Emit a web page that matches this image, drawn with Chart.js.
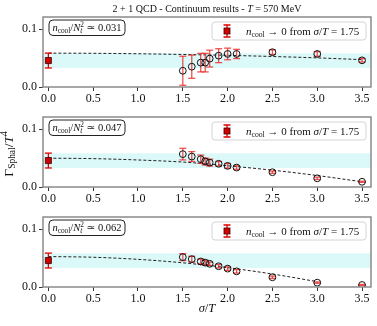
<!DOCTYPE html>
<html>

<head>
    <title>Sphaleron rate - continuum results</title>
    <script src="https://cdn.jsdelivr.net/npm/chart.js"></script>
    <style>
        body {
            margin: 0;
            background: #fff;
        }

        #wrap {
            position: relative;
            width: 377px;
            height: 326px;
            overflow: hidden;
        }

        #wrap canvas {
            position: absolute;
            left: 0;
        }
    </style>
</head>

<body>
    <div id="wrap">
        <canvas id="panel1" width="377" height="110" style="top:0px"></canvas>
        <canvas id="panel2" width="377" height="110" style="top:100px"></canvas>
        <canvas id="panel3" width="377" height="126" style="top:200px"></canvas>
    </div>

    <script>
        // sigma/T values of the lattice points
        const sigmaT = [1.5, 1.6, 1.7, 1.75, 1.8, 1.9, 2.0, 2.1, 2.5, 3.0, 3.5];

        // n_cool/N_t^2 = 0.031
        const rate031 = [0.028, 0.035, 0.042, 0.042, 0.049, 0.054, 0.057, 0.057, 0.060, 0.057, 0.046];
        const err031 = [0.025, 0.020, 0.016, 0.016, 0.0145, 0.012, 0.010, 0.008, 0.004, 0.004, 0.003];
        // n_cool/N_t^2 = 0.047
        const rate047 = [0.0567, 0.0525, 0.048, 0.044, 0.042, 0.040, 0.0364, 0.0335, 0.0255, 0.015, 0.009];
        const err047 = [0.010, 0.0085, 0.007, 0.006, 0.006, 0.004, 0.004, 0.003, 0.002, 0.002, 0.001];
        // n_cool/N_t^2 = 0.062
        const rate062 = [0.0515, 0.048, 0.044, 0.042, 0.040, 0.0358, 0.0317, 0.027, 0.0168, 0.0075, 0.0035];
        const err062 = [0.006, 0.005, 0.004, 0.004, 0.003, 0.003, 0.003, 0.003, 0.002, 0.001, 0.001];

        // fit curves
        const fitX = [0, 0.5, 1.0, 1.5, 2.0, 2.5, 3.0, 3.5];
        const fit031 = [0.0584, 0.0581, 0.0573, 0.0561, 0.0546, 0.0526, 0.0502, 0.0472];
        const fit047 = [0.0497, 0.0489, 0.0466, 0.0430, 0.0366, 0.0290, 0.0198, 0.0090];
        const fitX062 = [0, 0.5, 1.0, 1.5, 2.0, 2.5, 3.0];
        const fit062 = [0.0525, 0.0513, 0.0477, 0.0417, 0.0333, 0.0224, 0.0092];

        // n_cool -> 0 extrapolation (square + band)
        const extrapX = 0;
        const extrapY = 0.0456;
        const extrapErr = 0.0128;

        const ratioLabels = ['0.031', '0.047', '0.062'];
        const xTickValues = [0, 0.5, 1.0, 1.5, 2.0, 2.5, 3.0, 3.5];
        const yTickValues = [0, 0.1];
        const xMin = -0.06, xMax = 3.6, yMin = 0, yMax = 0.1207;

        const SERIF = '"Liberation Serif", "DejaVu Serif", serif';
        const ERR_RED = 'rgba(236, 40, 40, 0.8)';
        const BAND = '#dcf9f9';

        // draws text made of [text, kind] parts; kinds: r roman, i italic, b subscript,
        // bi italic subscript, p superscript, ps superscript stacked over previous part
        function drawRich(ctx, parts, x, y, size, align) {
            const fontFor = k => {
                const small = (k === 'b' || k === 'bi' || k === 'p' || k === 'ps');
                const it = (k === 'i' || k === 'bi') ? 'italic ' : '';
                return it + (small ? size * 0.7 : size) + 'px ' + SERIF;
            };
            let w = 0, lastW = 0;
            for (const [t, k] of parts) {
                ctx.font = fontFor(k);
                const tw = ctx.measureText(t).width;
                if (k === 'ps') { w += Math.max(0, tw - lastW); } else { w += tw; }
                lastW = tw;
            }
            let cx = align === 'center' ? x - w / 2 : (align === 'right' ? x - w : x);
            ctx.textAlign = 'left';
            ctx.textBaseline = 'alphabetic';
            let prevX = cx;
            for (const [t, k] of parts) {
                ctx.font = fontFor(k);
                const tw = ctx.measureText(t).width;
                let dy = 0;
                if (k === 'b' || k === 'bi') dy = size * 0.22;
                if (k === 'p' || k === 'ps') dy = -size * 0.4;
                if (k === 'ps') {
                    ctx.fillText(t, prevX, y + dy);
                    cx = Math.max(cx, prevX + tw);
                } else {
                    ctx.fillText(t, cx, y + dy);
                    prevX = cx;
                    cx += tw;
                }
            }
            return w;
        }

        function roundBox(ctx, x, y, w, h, r) {
            ctx.beginPath();
            ctx.moveTo(x + r, y);
            ctx.arcTo(x + w, y, x + w, y + h, r);
            ctx.arcTo(x + w, y + h, x, y + h, r);
            ctx.arcTo(x, y + h, x, y, r);
            ctx.arcTo(x, y, x + w, y, r);
            ctx.closePath();
        }

        const panelDecor = {
            id: 'panelDecor',
            afterDatasetsDraw(chart, args, opts) {
                const { ctx, chartArea: a } = chart;
                ctx.save();
                // frame
                ctx.strokeStyle = '#8a8a8a';
                ctx.lineWidth = 1.5;
                ctx.strokeRect(a.left, a.top, a.right - a.left, a.bottom - a.top);

                // n_cool / N_t^2 box
                roundBox(ctx, a.left + 6, a.top + 3, 76, 15.5, 4);
                ctx.fillStyle = '#fff';
                ctx.fill();
                ctx.strokeStyle = '#222';
                ctx.lineWidth = 1;
                ctx.stroke();
                ctx.fillStyle = '#111';
                drawRich(ctx, [['n', 'i'], ['cool', 'b'], ['/', 'r'], ['N', 'i'], ['t', 'bi'], ['2', 'ps'],
                    [' \u2243 ' + opts.ratio, 'r']
                ], a.left + 44, a.top + 14, 10.5, 'center');

                // legend
                const lx = a.right - 159, ly = a.top + 5, lw = 154, lh = 18;
                roundBox(ctx, lx, ly, lw, lh, 3);
                ctx.fillStyle = 'rgba(255,255,255,0.85)';
                ctx.fill();
                ctx.strokeStyle = '#d4d4d4';
                ctx.stroke();
                const mx = lx + 15, my = ly + lh / 2;
                ctx.strokeStyle = '#e00000';
                ctx.lineWidth = 1.3;
                ctx.beginPath();
                ctx.moveTo(mx, my - 6); ctx.lineTo(mx, my + 6);
                ctx.moveTo(mx - 3.5, my - 6); ctx.lineTo(mx + 3.5, my - 6);
                ctx.moveTo(mx - 3.5, my + 6); ctx.lineTo(mx + 3.5, my + 6);
                ctx.stroke();
                ctx.fillStyle = '#d10000';
                ctx.fillRect(mx - 3, my - 3, 6, 6);
                ctx.strokeStyle = '#3a0000';
                ctx.lineWidth = 0.8;
                ctx.strokeRect(mx - 3, my - 3, 6, 6);
                ctx.fillStyle = '#111';
                drawRich(ctx, [['n', 'i'], ['cool', 'b'], [' \u2192 0 from ', 'r'], ['\u03c3', 'i'], ['/', 'r'], ['T', 'i'],
                    [' = 1.75', 'r']
                ], lx + 34, ly + 12.5, 11, 'left');
                ctx.restore();
            },
            afterDraw(chart, args, opts) {
                const { ctx, chartArea: a } = chart;
                const cx = (a.left + a.right) / 2;
                ctx.save();
                ctx.fillStyle = '#111';
                if (opts.title) {
                    drawRich(ctx, [['2 + 1 QCD - Continuum results - ', 'r'], ['T', 'i'], [' = 570 MeV', 'r']],
                        cx, 12.3, 10, 'center');
                }
                if (opts.yLabel) {
                    ctx.translate(12.5, (a.top + a.bottom) / 2 + 2);
                    ctx.rotate(-Math.PI / 2);
                    drawRich(ctx, [['\u0393', 'r'], ['Sphal', 'b'], ['/', 'r'], ['T', 'i'], ['4', 'p']], 0, 0, 13.5, 'center');
                }
                if (opts.xLabel) {
                    drawRich(ctx, [['\u03c3', 'i'], ['/', 'r'], ['T', 'i']], cx, a.bottom + 25, 12.5, 'center');
                }
                ctx.restore();
            }
        };

        function errorSegments(xs, ys, es) {
            const pts = [];
            xs.forEach((x, i) => {
                pts.push({ x, y: ys[i] - es[i] }, { x, y: ys[i] + es[i] }, { x, y: null });
            });
            return pts;
        }

        function makePanel(id, rates, errs, fxs, fys, ratio, extra) {
            const markers = sigmaT.map((x, i) => ({ x, y: rates[i] }));
            const fit = fxs.map((x, i) => ({ x, y: fys[i] }));
            new Chart(document.getElementById(id), {
                type: 'scatter',
                data: {
                    datasets: [{
                        data: [{ x: extrapX, y: extrapY }],
                        pointStyle: 'rect',
                        pointRadius: 4.3,
                        backgroundColor: '#d10000',
                        borderColor: '#3a0000',
                        borderWidth: 0.8
                    }, {
                        data: markers,
                        pointStyle: 'circle',
                        pointRadius: 3.4,
                        backgroundColor: 'rgba(0,0,0,0)',
                        borderColor: '#111',
                        borderWidth: 1
                    }, {
                        data: errorSegments([extrapX], [extrapY], [extrapErr]),
                        showLine: true,
                        spanGaps: false,
                        borderColor: '#e00000',
                        borderWidth: 1.3,
                        pointStyle: 'line',
                        pointRadius: 3.5,
                        pointBorderColor: '#e00000',
                        pointBorderWidth: 1.3
                    }, {
                        data: errorSegments(sigmaT, rates, errs),
                        showLine: true,
                        spanGaps: false,
                        borderColor: ERR_RED,
                        borderWidth: 1.3,
                        pointStyle: 'line',
                        pointRadius: 3.5,
                        pointBorderColor: ERR_RED,
                        pointBorderWidth: 1.3
                    }, {
                        data: fit,
                        showLine: true,
                        borderColor: '#222',
                        borderWidth: 1,
                        borderDash: [3, 2],
                        pointRadius: 0,
                        cubicInterpolationMode: 'monotone'
                    }, {
                        data: [{ x: xMin, y: extrapY + extrapErr }, { x: xMax, y: extrapY + extrapErr }],
                        showLine: true,
                        borderColor: 'rgba(0,0,0,0)',
                        borderWidth: 0,
                        pointRadius: 0,
                        backgroundColor: BAND,
                        fill: '+1'
                    }, {
                        data: [{ x: xMin, y: extrapY - extrapErr }, { x: xMax, y: extrapY - extrapErr }],
                        showLine: true,
                        borderColor: 'rgba(0,0,0,0)',
                        borderWidth: 0,
                        pointRadius: 0,
                        fill: false
                    }]
                },
                options: {
                    responsive: false,
                    animation: false,
                    events: [],
                    layout: {
                        padding: { top: 17, right: 6, bottom: 0, left: 0 }
                    },
                    plugins: {
                        legend: { display: false },
                        tooltip: { enabled: false },
                        panelDecor: { ratio, title: extra.title, yLabel: extra.yLabel, xLabel: extra.xLabel }
                    },
                    scales: {
                        x: {
                            type: 'linear',
                            min: xMin,
                            max: xMax,
                            afterBuildTicks: s => { s.ticks = xTickValues.map(v => ({ value: v })); },
                            afterFit: s => { s.height = extra.xHeight; s.paddingLeft = 0; s.paddingRight = 0; },
                            ticks: {
                                callback: v => v.toFixed(1),
                                font: { family: SERIF, size: 12 },
                                color: '#111',
                                padding: 1,
                                maxRotation: 0,
                                autoSkip: false
                            },
                            grid: { drawOnChartArea: false, drawTicks: true, tickLength: 4, tickColor: '#333', tickWidth: 1 },
                            border: { display: false }
                        },
                        y: {
                            type: 'linear',
                            min: yMin,
                            max: yMax,
                            afterBuildTicks: s => { s.ticks = yTickValues.map(v => ({ value: v })); },
                            afterFit: s => { s.width = 43; s.paddingTop = 0; s.paddingBottom = 0; },
                            ticks: {
                                callback: v => v.toFixed(1),
                                font: { family: SERIF, size: 12 },
                                color: '#111',
                                padding: 2
                            },
                            grid: { drawOnChartArea: false, drawTicks: true, tickLength: 4, tickColor: '#333', tickWidth: 1 },
                            border: { display: false }
                        }
                    }
                },
                plugins: [panelDecor]
            });
        }

        makePanel('panel1', rate031, err031, fitX, fit031, ratioLabels[0], { xHeight: 23, title: true });
        makePanel('panel2', rate047, err047, fitX, fit047, ratioLabels[1], { xHeight: 23, yLabel: true });
        makePanel('panel3', rate062, err062, fitX062, fit062, ratioLabels[2], { xHeight: 39, xLabel: true });
    </script>
</body>

</html>
